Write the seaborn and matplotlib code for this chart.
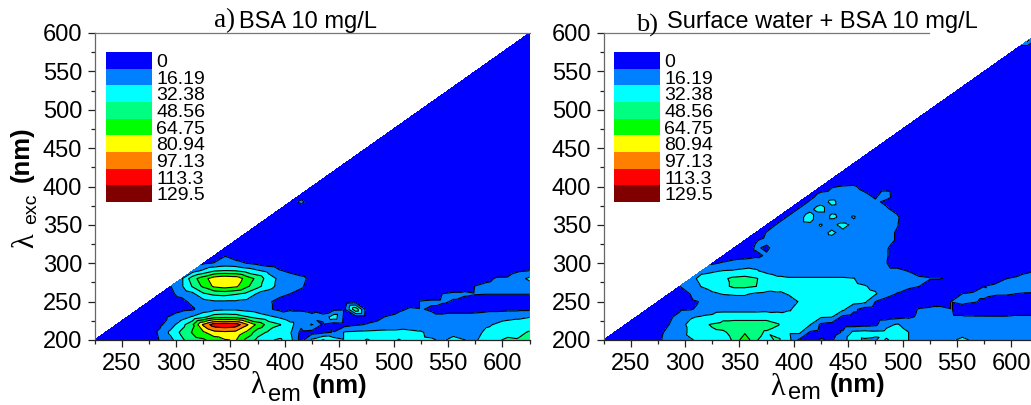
import numpy as np
import pandas as pd
import seaborn as sns
import matplotlib
matplotlib.use('Agg')
import matplotlib.pyplot as plt
from matplotlib.colors import ListedColormap
from matplotlib.ticker import MultipleLocator

sns.set_style('ticks')
plt.rcParams['font.family'] = ['Liberation Sans', 'DejaVu Sans']

levels = [0, 16.19, 32.38, 48.56, 64.75, 80.94, 97.13, 113.3, 129.5]
level_labels = ['0', '16.19', '32.38', '48.56', '64.75', '80.94', '97.13', '113.3', '129.5']
level_colors = ['#0000ff', '#0080ff', '#00ffff', '#00ff80', '#00ff00',
                '#ffff00', '#ff8000', '#ff0000', '#800000']

# each row is one excitation wavelength, first value sits on the diagonal
# (em = exc + 25), then every 10 nm in emission
# panel a
a_200 = [3,3,3,4,5,8,17,28,45,58,62,72,80,82,60,44,45,52,38,10,36,50,40,34,38,50,45,40,50,40,35,34,30,38,33,30,40,46,52,50,60]
a_210 = [4,4,5,6,8,19,36,52,66,78,92,94,92,78,56,46,34,34,12,10,13,17,34,35,36,37,38,38,36,34,28,22,26,22,26,36,38,42,45,50]
a_220 = [3,3,4,6,13,25,42,62,100,122,126,122,100,76,58,50,38,20,34,14,8,10,14,17,19,20,22,24,24,22,22,20,22,26,30,34,38,38,40]
a_230 = [3,4,6,12,18,26,34,44,58,60,58,50,42,36,30,22,20,18,20,42,12,8,8,13,18,22,20,17,20,20,22,22,22,24,26,28,30,32]
a_240 = [4,5,6,7,12,14,24,28,30,30,27,24,18,13,15,15,14,10,12,14,62,10,6,6,13,18,17,14.5,10,10,10,11,12,12,13,13,13]
a_250 = [6,8,10,12,20,26,30,30,30,28,24,18,12,9,7,7,6,6,5,8,5,5,5,6,10,17,18,18,15,10,9,9,9,9,9,9]
a_260 = [7,14,20,28,46,52,54,50,44,30,26,20,16,12,8,6,6,5,5,5,5,5,5,6,7,9,16.5,19,19,17,16.5,16.5,16.5,16.5,16.5]
a_270 = [16,30,50,68,84,88,84,68,54,38,28,22,18,10,6,5,5,5,5,5,5,5,5,5,5,5,6,10,16.5,20,22,22,24,24]
a_280 = [30,58,74,90,95,92,74,60,40,29,24,20,12,7,5,5,5,5,5,5,5,5,5,5,5,5,6,8,12,18,18,26,36]
a_290 = [26,36,48,50,49,42,35,28,18,13,9,7,5,5,5,5,5,5,5,5,5,5,5,5,5,5,6,7,8,10,15,16.5]
a_300 = [14,17,22,20,16,12,8,6,5,5,5,5,5,5,5,5,5,5,5,5,5,5,5,5,5,5,5,5,5,6,8]
a_310 = [7,15.5,10,7,5,4]
a_rows = {200: a_200, 210: a_210, 220: a_220, 230: a_230, 240: a_240, 250: a_250,
          260: a_260, 270: a_270, 280: a_280, 290: a_290, 300: a_300, 310: a_310}
# little spot near the diagonal and the top corner
a_extra_em = [405, 415, 425, 415, 415, 625]
a_extra_exc = [380, 380, 380, 370, 390, 600]
a_extra_val = [5, 21, 5, 5, 5, 4]

# panel b
b_200 = [3,3,3,4,6,13,22,26,31,36,40,44,50,78,50,42,52,38,14,8,18,14,30,36,31,30,52,38,33,22,20,20,30,36,30,22,20,20,20,21,22]
b_210 = [3,3,4,6,12,20,25,36,42,46,47,52,62,52,47,40,36,36,14,10,8,18,36,38,36,37,40,33,22,20,20,22,26,22,20,20,20,20,20,20]
b_220 = [3,3,4,8,16,28,36,45,50,53,54,54,54,54,50,40,38,33,13,10,9,9,11,13,28,34,26,18,20,20,20,20,20,20,20,20,20,20,20]
b_230 = [3,3,5,14,20,31,34,36,44,44,44,44,44,40,38,38,36,34,33,12,9,8,8,9,11,14,18,17,17,17,17,17,17,17,17,18,18,18]
b_240 = [3,5,8,14,15,20,25,26,26,26,26,27,28,31,36,36,36,36,36,20,10,8,8,9,12,17,18,18,16.5,13,11,10,9,9,9,9,9]
b_250 = [6,7,10,14,17,22,24,25,26,26,25,26,28,33,38,40,40,40,38,36,16,10,9,8,9,11,13,16.5,18,17,15,13,12,11,11,11]
b_260 = [6,11,16.5,24,30,33,34,34,30,28,30,33,37,38,38,38,38,38,36,34,22,15.5,11,8,7,7,9,16.5,18,18,17,17,16,15.5,15]
b_270 = [16,25,33,38,44,52,52,49,42,40,38,38,38,38,38,38,36,33.5,29,24,21,19,16.5,10,7,6,8,10,16,18,19,20,20,20]
b_280 = [26,38,42,46,52,54,50,42,36,34,34,34,34,34,34,33,26,24,22,20,18,18,17,17,12,8,7,9,12,16,18,19,20]
b_290 = [28,30,33,34,36,34,28,24,24,24,24,24,24,24,24,22,20,18,18,16,12,8,6,5,5,5,5,6,8,11,15,17]
b_300 = [14,18,22,24,26,24,22,22,22,22,22,22,22,22,21,20,16.5,13,9,7,5,5,5,5,5,5,5,5,5,6,8]
b_310 = [7,9,10,13,18,22,22,24,24,24,24,24,22,21,20,17,12,7,5]
b_320 = [6,7,18,14,22,24,24,24,24,24,24,22,21,20,17,13,7,5]
b_330 = [6,15,20,24,26,26,26,26,28,26,24,22,21,20,15,8,5]
b_340 = [6,17,24,26,26,26,28,35,28,24,22,21,20,15,8,5]
b_350 = [8,18,24,26,28,33.5,28,38,28,24,22,20,17,9,5]
b_360 = [8,18,26,42,28,36,28,33.5,24,22,20,18,8,5]
b_370 = [8,18,28,42,28,26,26,24,20,18,13,6,5]
b_380 = [8,18,26,36,26,24,22,18,14,8,5,5]
b_390 = [10,20,22,22,22,18,13,22,6,5,5]
b_400 = [6,15,17,18,12,8,8,6,5,5]
b_410 = [5,5,6,6,5,5,5,5,5]
b_rows = {200: b_200, 210: b_210, 220: b_220, 230: b_230, 240: b_240, 250: b_250,
          260: b_260, 270: b_270, 280: b_280, 290: b_290, 300: b_300, 310: b_310,
          320: b_320, 330: b_330, 340: b_340, 350: b_350, 360: b_360, 370: b_370,
          380: b_380, 390: b_390, 400: b_400, 410: b_410}
# corner spot, then mid cell points that keep the small diamonds apart
b_extra_em = [605, 615, 625, 625, 615, 420, 430, 430, 440, 430, 440, 430, 450, 420]
b_extra_exc = [580, 590, 600, 590, 580, 365, 375, 365, 355, 355, 345, 345, 355, 355]
b_extra_val = [5, 35, 5, 5, 5, 27, 27, 27, 27, 27, 27, 27, 26, 26]


def to_long(rows, extra_em, extra_exc, extra_val):
    recs = []
    for exc, vals in rows.items():
        for i, v in enumerate(vals):
            recs.append((exc + 25 + 10 * i, exc, v))
    recs += list(zip(extra_em, extra_exc, extra_val))
    return pd.DataFrame(recs, columns=['em', 'exc', 'value'])


W, H = 1031, 405
fig = plt.figure(figsize=(W / 100, H / 100), dpi=100)


def ptext(px, py, s, size, **kw):
    # place text by pixel position, baseline at py
    kw.setdefault('va', 'baseline')
    fig.text(px / W, 1 - py / H, s, fontsize=size, color='black', **kw)


def panel(left, df, top_end=None):
    ax = fig.add_axes([left / W, (H - 340) / H, 435 / W, 307 / H])
    ax.tricontourf(df.em, df.exc, df.value, levels=levels + [1000], colors=level_colors)
    ax.tricontour(df.em, df.exc, df.value, levels=levels[1:], colors='black', linewidths=0.8)
    ax.xaxis.set_major_locator(MultipleLocator(50))
    ax.yaxis.set_major_locator(MultipleLocator(50))
    ax.set_xticks(np.arange(225, 626, 50), minor=True)
    ax.set_yticks(np.arange(225, 576, 50), minor=True)
    # limits after the ticks, set_yticks stretches the view otherwise
    ax.set_xlim(225, 625)
    ax.set_ylim(200, 600)
    ax.tick_params(which='major', length=5, width=0.9, labelsize=17, color='#222222', pad=4, labelcolor='black')
    ax.tick_params(which='minor', length=3, width=0.9, color='#222222')
    sns.despine(ax=ax, right=True, top=False)
    ax.spines['left'].set_color('#666666')
    ax.spines['top'].set_color('#777777')
    ax.spines['bottom'].set_color('#222222')
    for s in ax.spines.values():
        s.set_linewidth(0.9)
    if top_end is not None:
        ax.spines['top'].set_bounds(225, top_end)
    return ax


def level_key(left):
    key_ax = fig.add_axes([left / W, (H - 202) / H, 46 / W, 150 / H])
    sns.heatmap(np.arange(9).reshape(-1, 1), ax=key_ax, cmap=ListedColormap(level_colors),
                cbar=False, xticklabels=False, yticklabels=level_labels)
    key_ax.yaxis.tick_right()
    key_ax.tick_params(axis='y', length=0, labelsize=14, rotation=0, pad=3, labelcolor='black')
    key_ax.set_xlabel('')
    key_ax.set_ylabel('')


ax_a = panel(94.5, to_long(a_rows, a_extra_em, a_extra_exc, a_extra_val))
ax_b = panel(603.5, to_long(b_rows, b_extra_em, b_extra_exc, b_extra_val), top_end=524)
level_key(106)
level_key(614)

# titles, mixed fonts like the original
ptext(214, 27, 'a)', 19.5, family='Liberation Serif')
ptext(239, 28, 'BSA 10 mg/L', 17)
ptext(636, 32, 'b)', 19, family='Liberation Serif')
ptext(667, 28, 'Surface water + BSA 10 mg/L', 17)

# axis labels built from pieces: lambda, small subscript, bold unit
ptext(250, 393, '\u03bb', 22, family='Liberation Serif')
ptext(268, 401, 'em', 17)
ptext(312, 393, '(nm)', 18.5, weight='bold')
ptext(770, 395, '\u03bb', 22, family='Liberation Serif')
ptext(788, 399, 'em', 17)
ptext(830, 392, '(nm)', 18.5, weight='bold')

ptext(33, 248, '\u03bb', 22, family='Liberation Serif', rotation=90, rotation_mode='anchor', ha='left')
ptext(36, 224, 'exc', 14, rotation=90, rotation_mode='anchor', ha='left')
ptext(29, 182, '(nm)', 18.5, weight='bold', rotation=90, rotation_mode='anchor', ha='left')

fig.savefig('out.png', dpi=100, facecolor='white')
